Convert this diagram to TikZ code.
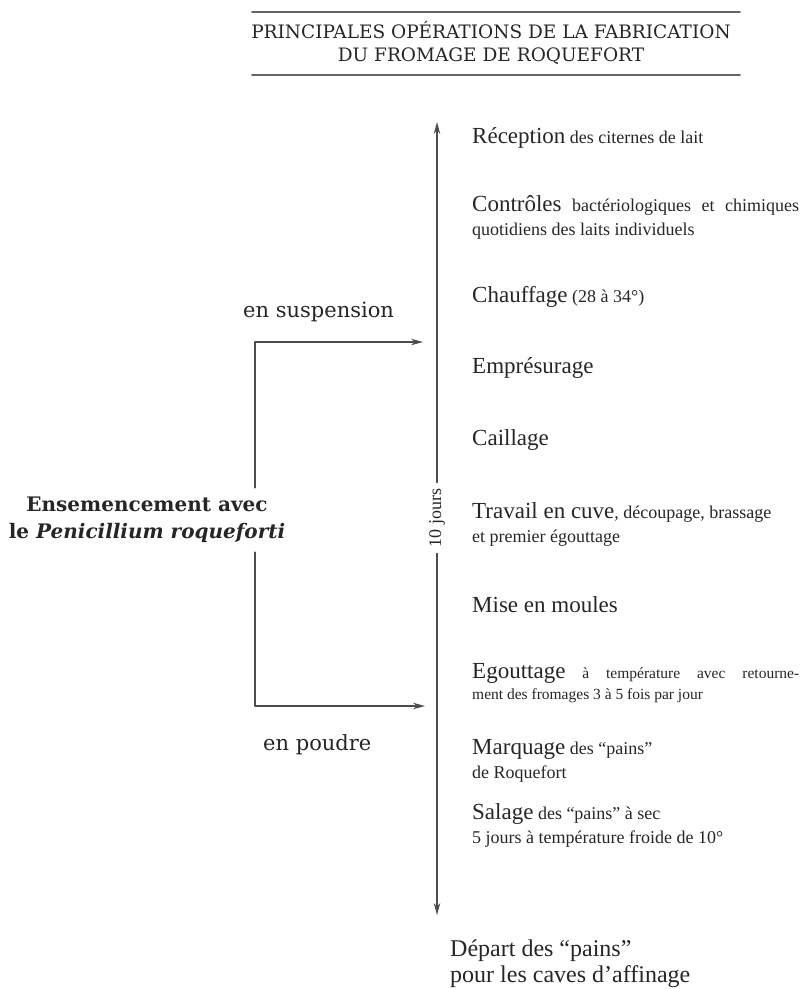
\documentclass[tikz,border=0pt]{standalone}
\usepackage{fontspec}
\setmainfont{Liberation Serif}
\newfontfamily\slabfont{DejaVu Serif}
\usetikzlibrary{arrows.meta, positioning, calc}

\begin{document}
\begin{tikzpicture}[x=1pt, y=-1pt, >={Stealth[length=12pt,width=6.5pt]}, line cap=round, line join=round]
	\def\stepx{472}
	\def\axisx{437}
	
	\tikzset{
		flow/.style={line width=1.1pt, black!70},
		rule/.style={line width=1.8pt, black!60},
		big/.style={font=\fontsize{23}{26}\selectfont},
		stepnode/.style={anchor=west, inner sep=0pt, align=left, font=\fontsize{18}{24}\selectfont, text=black!85},
		parnode/.style={stepnode, text width=327pt, align=justify},
		slab/.style={font=\slabfont\fontsize{21}{24}\selectfont, text=black!85}
	}
	\newcommand{\bigw}[1]{{\fontsize{23}{26}\selectfont #1}}
	
	\useasboundingbox (0,0) rectangle (801,989);
	
	% title
	\draw[rule] (252,12) -- (740,12);
	\draw[rule] (252,75) -- (740,75);
	\node[slab, font=\slabfont\fontsize{18.5}{23}\selectfont, align=center] (title) at (491,43)
	{PRINCIPALES OPÉRATIONS DE LA FABRICATION\\DU FROMAGE DE ROQUEFORT};
	
	% time axis
	\coordinate (top) at (\axisx,122);
	\coordinate (bot) at (\axisx,915);
	\node[rotate=90, font=\fontsize{18}{20}\selectfont, text=black!85, inner xsep=6pt, inner ysep=0pt] (jours) at (\axisx,518) {10 jours};
	\draw[flow,->] (jours.east) -- (top);
	\draw[flow,->] (jours.west) -- (bot);
	
	% seeding
	\node[font=\slabfont\bfseries\fontsize{20}{27}\selectfont, align=center, text=black!85, inner xsep=4pt, inner ysep=9pt] (ens) at (147,520)
	{Ensemencement avec\\le \textit{Penicillium roqueforti}};
	\coordinate (brk) at (255,0);
	\coordinate (susptip) at (423,342);
	\coordinate (poudtip) at (425,706);
	\draw[flow,->] (ens.north -| brk) |- (susptip);
	\draw[flow,->] (ens.south -| brk) |- (poudtip);
	\node[slab, anchor=west, inner sep=0pt] (susp) at (243,312) {en suspension};
	\node[slab, anchor=west, inner sep=0pt] (poud) at (263,745) {en poudre};
	
	% steps
	\node[stepnode] (recep) at (\stepx,138) {\bigw{Réception} des citernes de lait};
	\node[parnode] (ctrl) at (\stepx,217) {\bigw{Contrôles} bactériologiques et chimiques\linebreak quotidiens des laits individuels};
	\node[stepnode] (chauf) at (\stepx,297) {\bigw{Chauffage} (28 à 34°)};
	\node[stepnode, big] (empr) at (\stepx,368) {Emprésurage};
	\node[stepnode, big] (caill) at (\stepx,440) {Caillage};
	\node[stepnode] (cuve) at (\stepx,524) {\bigw{Travail en cuve}, découpage, brassage\\et premier égouttage};
	\node[stepnode, big] (moul) at (\stepx,605) {Mise en moules};
	\node[parnode, font=\fontsize{15.5}{21}\selectfont] (egout) at (\stepx,683) {\bigw{Egouttage} à température avec retourne-\linebreak ment des fromages 3 à 5 fois par jour};
	\node[stepnode] (marq) at (\stepx,761) {\bigw{Marquage} des “pains”\\de Roquefort};
	\node[stepnode] (sal) at (\stepx,825) {\bigw{Salage} des “pains” à sec\\5 jours à température froide de 10°};
	\node[stepnode, font=\fontsize{24}{26}\selectfont] (depart) at (450,964) {Départ des “pains”\\pour les caves d’affinage};
	
\end{tikzpicture}
\end{document}
